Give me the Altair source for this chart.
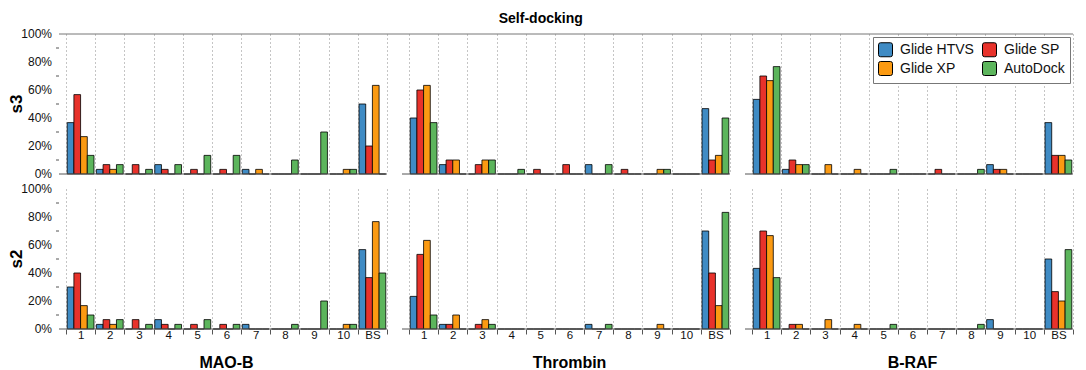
import altair as alt
import pandas as pd

categories = ["1", "2", "3", "4", "5", "6", "7", "8", "9", "10", "BS"]
methods = ["Glide HTVS", "Glide SP", "Glide XP", "AutoDock"]
legend_order = ["Glide HTVS", "Glide XP", "Glide SP", "AutoDock"]
legend_colors = ["#3f8bc4", "#fb9a12", "#e8322b", "#5cb55c"]
targets = ["MAO-B", "Thrombin", "B-RAF"]
scores = ["s3", "s2"]

# values in percent, order: 1..10, BS
maob_s3_htvs = [36.7, 3.3, 0, 6.7, 0, 0, 3.3, 0, 0, 0, 50]
maob_s3_sp = [56.7, 6.7, 6.7, 3.3, 3.3, 3.3, 0, 0, 0, 0, 20]
maob_s3_xp = [26.7, 3.3, 0, 0, 0, 0, 3.3, 0, 0, 3.3, 63.3]
maob_s3_ad = [13.3, 6.7, 3.3, 6.7, 13.3, 13.3, 0, 10, 30, 3.3, 0]

maob_s2_htvs = [30, 3.3, 0, 6.7, 0, 0, 3.3, 0, 0, 0, 56.7]
maob_s2_sp = [40, 6.7, 6.7, 3.3, 3.3, 3.3, 0, 0, 0, 0, 36.7]
maob_s2_xp = [16.7, 3.3, 0, 0, 0, 0, 0, 0, 0, 3.3, 76.7]
maob_s2_ad = [10, 6.7, 3.3, 3.3, 6.7, 3.3, 0, 3.3, 20, 3.3, 40]

thr_s3_htvs = [40, 6.7, 0, 0, 0, 0, 6.7, 0, 0, 0, 46.7]
thr_s3_sp = [60, 10, 6.7, 0, 3.3, 6.7, 0, 3.3, 0, 0, 10]
thr_s3_xp = [63.3, 10, 10, 0, 0, 0, 0, 0, 3.3, 0, 13.3]
thr_s3_ad = [36.7, 0, 10, 3.3, 0, 0, 6.7, 0, 3.3, 0, 40]

thr_s2_htvs = [23.3, 3.3, 0, 0, 0, 0, 3.3, 0, 0, 0, 70]
thr_s2_sp = [53.3, 3.3, 3.3, 0, 0, 0, 0, 0, 0, 0, 40]
thr_s2_xp = [63.3, 10, 6.7, 0, 0, 0, 0, 0, 3.3, 0, 16.7]
thr_s2_ad = [10, 0, 3.3, 0, 0, 0, 3.3, 0, 0, 0, 83.3]

braf_s3_htvs = [53.3, 3.3, 0, 0, 0, 0, 0, 0, 6.7, 0, 36.7]
braf_s3_sp = [70, 10, 0, 0, 0, 0, 3.3, 0, 3.3, 0, 13.3]
braf_s3_xp = [66.7, 6.7, 6.7, 3.3, 0, 0, 0, 0, 3.3, 0, 13.3]
braf_s3_ad = [76.7, 6.7, 0, 0, 3.3, 0, 0, 3.3, 0, 0, 10]

braf_s2_htvs = [43.3, 0, 0, 0, 0, 0, 0, 0, 6.7, 0, 50]
braf_s2_sp = [70, 3.3, 0, 0, 0, 0, 0, 0, 0, 0, 26.7]
braf_s2_xp = [66.7, 3.3, 6.7, 3.3, 0, 0, 0, 0, 0, 0, 20]
braf_s2_ad = [36.7, 0, 0, 0, 3.3, 0, 0, 3.3, 0, 0, 56.7]

y_ticks = [0, 20, 40, 60, 80, 100]
y_tick_expr = "[0, 20, 40, 60, 80, 100]"
y_minor_expr = "[10, 30, 50, 70, 90]"

groups = [
    ("MAO-B", "s3", [maob_s3_htvs, maob_s3_sp, maob_s3_xp, maob_s3_ad]),
    ("MAO-B", "s2", [maob_s2_htvs, maob_s2_sp, maob_s2_xp, maob_s2_ad]),
    ("Thrombin", "s3", [thr_s3_htvs, thr_s3_sp, thr_s3_xp, thr_s3_ad]),
    ("Thrombin", "s2", [thr_s2_htvs, thr_s2_sp, thr_s2_xp, thr_s2_ad]),
    ("B-RAF", "s3", [braf_s3_htvs, braf_s3_sp, braf_s3_xp, braf_s3_ad]),
    ("B-RAF", "s2", [braf_s2_htvs, braf_s2_sp, braf_s2_xp, braf_s2_ad]),
]

records = []
for target, score, series in groups:
    for m, vals in zip(methods, series):
        for c, v in zip(categories, vals):
            records.append({"target": target, "score": score, "method": m, "cat": c, "value": v})
df = pd.DataFrame(records)

W = 321
H = 140
GAP = 22
OFF = 7
FONT = "Liberation Sans"
ROUNDED = ("M-0.7,-1H0.7Q1,-1 1,-0.7V0.7Q1,1 0.7,1H-0.7Q-1,1 -1,0.7"
           "V-0.7Q-1,-1 -0.7,-1Z")

bars = alt.Chart().mark_bar(stroke="black", strokeWidth=0.8).encode(
    x=alt.X(
        "cat:N",
        sort=categories,
        scale=alt.Scale(paddingInner=0, paddingOuter=0),
        axis=alt.Axis(
            title=None, labelAngle=0, tickBand="extent", domain=False,
            grid=True, gridDash=[1, 3], gridColor="#8a8a8a", gridWidth=1,
            tickColor="#555", tickSize=5, labelFontSize=11.5, labelColor="#111",
            labelPadding=-5,
        ),
    ),
    xOffset=alt.XOffset(
        "method:N", sort=methods,
        scale=alt.Scale(paddingInner=0, paddingOuter=0.18),
    ),
    y=alt.Y(
        "value:Q",
        scale=alt.Scale(domain=[0, 100], nice=False),
        axis=alt.Axis(
            title=None, values=y_ticks, labels=False,
            grid=True, gridDash=[1, 3], gridColor="#8a8a8a",
            tickSize=5, tickColor="#555", domainColor="#555", offset=OFF,
        ),
    ),
    color=alt.Color(
        "method:N",
        scale=alt.Scale(domain=legend_order, range=legend_colors),
        legend=alt.Legend(
            title=None, orient="none", legendX=2 * (W + GAP) + W - 200, legendY=3,
            columns=2, symbolType=ROUNDED,
            symbolSize=196, symbolStrokeColor="black", symbolStrokeWidth=1,
            symbolOpacity=1, labelFontSize=14, labelColor="#111", labelOffset=7,
            strokeColor="#777", fillColor="white", padding=5,
            columnPadding=6, rowPadding=0, labelLimit=200,
        ),
    ),
)

per_cell = ["target", "score"]

zero_line = alt.Chart().mark_rule(color="#555", strokeWidth=1).encode(
    x=alt.value(-OFF), x2=alt.value(W), y=alt.datum(0)
).transform_aggregate(n="count()", groupby=per_cell)

top_line_inner = alt.Chart().mark_rule(color="#777", strokeWidth=1).encode(
    x=alt.value(-OFF), x2=alt.value(W + GAP - OFF), y=alt.datum(100)
).transform_aggregate(
    n="count()", groupby=per_cell
).transform_filter(
    (alt.datum.score == "s3") & (alt.datum.target != "B-RAF")
)

top_line_last = alt.Chart().mark_rule(color="#777", strokeWidth=1).encode(
    x=alt.value(-OFF), x2=alt.value(W), y=alt.datum(100)
).transform_aggregate(
    n="count()", groupby=per_cell
).transform_filter(
    (alt.datum.score == "s3") & (alt.datum.target == "B-RAF")
)

minor_ticks = alt.Chart().mark_rule(color="#555", strokeWidth=1).encode(
    x=alt.value(-OFF - 3), x2=alt.value(-OFF), y=alt.Y("minor:Q", axis=None)
).transform_aggregate(
    n="count()", groupby=per_cell
).transform_filter(
    alt.datum.target == "MAO-B"
).transform_calculate(minor=y_minor_expr).transform_flatten(["minor"])

y_labels = alt.Chart().mark_text(
    align="right", baseline="middle", fontSize=12, color="#111", font=FONT
).encode(
    x=alt.value(-OFF - 7), y=alt.Y("tick:Q", axis=None), text="label:N"
).transform_aggregate(
    n="count()", groupby=per_cell
).transform_filter(
    alt.datum.target == "MAO-B"
).transform_calculate(tick=y_tick_expr).transform_flatten(
    ["tick"]
).transform_calculate(label="datum.tick + '%'")

chart = alt.layer(
    bars, zero_line, top_line_inner, top_line_last, minor_ticks, y_labels, data=df
).properties(
    width=W, height=H
).facet(
    row=alt.Row(
        "score:N", sort=scores,
        header=alt.Header(
            title=None, labelFontSize=17, labelFontWeight="bold",
            labelOrient="left", labelAngle=-90, labelPadding=32, labelFont=FONT,
        ),
    ),
    column=alt.Column(
        "target:N", sort=targets,
        header=alt.Header(
            title=None, labelFontSize=16, labelFontWeight="bold",
            labelOrient="bottom", labelPadding=14, labelFont=FONT,
        ),
    ),
    spacing={"row": 15, "column": GAP},
    bounds="flush",
).properties(
    title=alt.TitleParams("Self-docking", fontSize=14, fontWeight="bold",
                          anchor="middle", offset=2, font=FONT),
    padding={"left": 0, "right": 0, "top": 4, "bottom": 0},
).configure(font=FONT).configure_view(stroke=None)

chart.save("out.html", embed_options={"renderer": "svg", "actions": False})
